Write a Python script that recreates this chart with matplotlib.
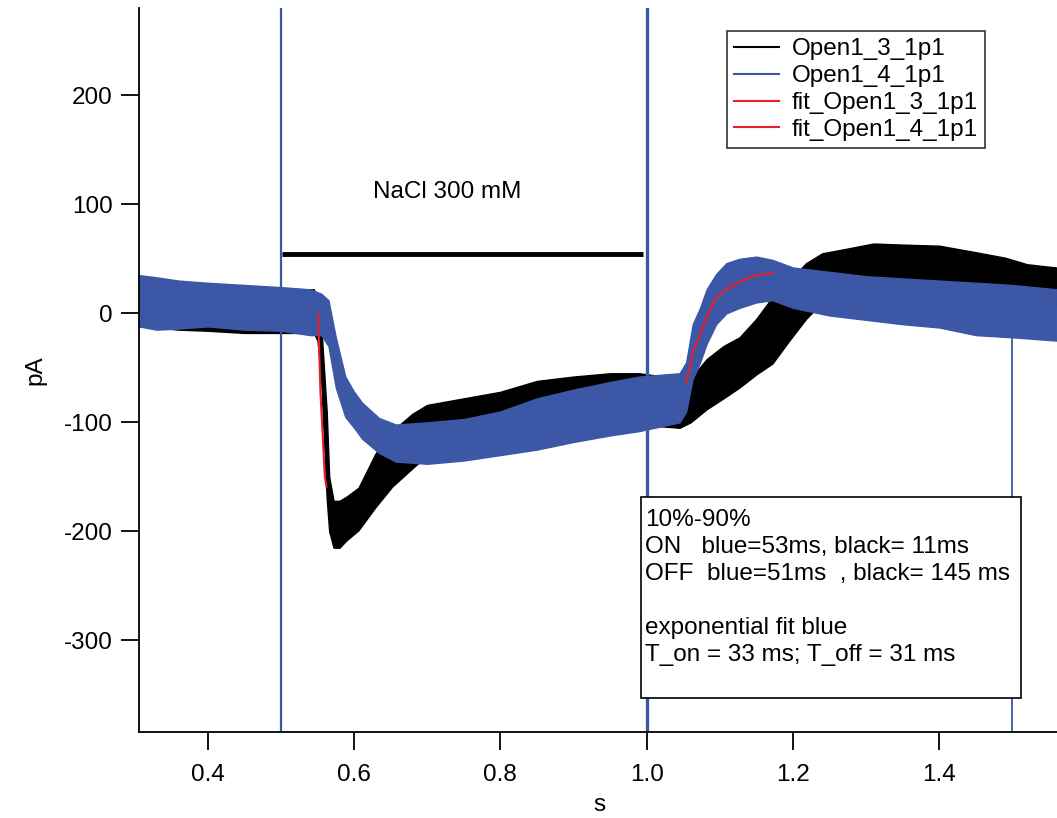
import matplotlib
matplotlib.use("Agg")
import matplotlib.pyplot as plt
from matplotlib.lines import Line2D
from matplotlib.patches import Rectangle

plt.rcParams['font.family'] = ['Liberation Sans', 'DejaVu Sans']
plt.rcParams['axes.unicode_minus'] = False

# Open1_3_1p1 (black): noise band, lower / upper edge (s, pA)
t_black = [0.306, 0.33, 0.36, 0.40, 0.45, 0.50, 0.545, 0.55, 0.555, 0.5626, 0.566,
           0.572, 0.58, 0.59, 0.606, 0.629, 0.652, 0.68, 0.70, 0.75, 0.80, 0.85,
           0.90, 0.95, 0.99, 1.045, 1.06, 1.082, 1.105, 1.127, 1.15, 1.172, 1.195,
           1.218, 1.24, 1.264, 1.31, 1.35, 1.40, 1.45, 1.49, 1.52, 1.56]
black_lo = [-12, -13, -15, -16, -18, -18, -18, -25, -60, -170, -200,
            -215, -215, -208, -199, -178, -159, -142, -130, -118, -112, -108,
            -105, -103, -102, -105, -100, -88, -78, -68, -56, -46, -25,
            -5, 10, 18, 22, 22, 20, 15, 14, 10, 5]
black_hi = [30, 28, 26, 25, 24, 22, 22, 10, -10, -90, -150,
            -172, -172, -168, -160, -129, -108, -92, -84, -78, -72, -62,
            -58, -55, -55, -60, -60, -42, -30, -22, -5, 15, 30,
            46, 55, 58, 64, 63, 62, 56, 51, 45, 42]

# Open1_4_1p1 (blue)
t_blue = [0.306, 0.33, 0.36, 0.40, 0.45, 0.50, 0.54, 0.555, 0.565, 0.575, 0.588,
          0.60, 0.611, 0.634, 0.657, 0.70, 0.75, 0.80, 0.85, 0.90, 0.95, 0.99,
          1.045, 1.054, 1.063, 1.073, 1.082, 1.095, 1.109, 1.127, 1.15, 1.172,
          1.20, 1.25, 1.30, 1.35, 1.40, 1.45, 1.50, 1.56]
blue_lo = [-12, -15, -14, -12, -15, -16, -20, -20, -30, -68, -95,
           -105, -115, -128, -136, -138, -135, -130, -125, -118, -112, -108,
           -100, -90, -60, -45, -28, -10, 0, 5, 10, 12,
           5, -2, -6, -10, -13, -20, -22, -25]
blue_hi = [35, 33, 30, 28, 26, 24, 22, 18, 12, -22, -58,
           -72, -82, -96, -102, -100, -97, -90, -78, -70, -63, -58,
           -55, -45, -10, 5, 22, 36, 46, 50, 52, 49,
           42, 38, 34, 32, 30, 28, 26, 22]

# exponential fits
t_fit3 = [0.5508, 0.5522, 0.5541, 0.5568, 0.5600, 0.5623]
fit3 = [0, -31, -73, -107, -150, -159]
t_fit4 = [1.054, 1.063, 1.073, 1.082, 1.095, 1.109, 1.127, 1.15, 1.172]
fit4 = [-64, -36, -20, -3, 14, 22, 29, 35, 37]

# switching artefacts on the blue trace
spike_t = [0.5, 1.0, 1.5]
spike_lo = [-400, -400, -400]
spike_hi = [300, 300, 5]

# NaCl application bar
bar_t = [0.502, 0.995]
bar_y = 54

black = '#000000'
blue = '#3b57a6'
red = '#e8202a'
fs = 17.5

W, H = 1057, 818
fig = plt.figure(figsize=(W / 100, H / 100), dpi=100)
ax = fig.add_axes([139 / W, 86 / H, 918 / W, 724 / H])

ax.fill_between(t_black, black_lo, black_hi, color=black, lw=1.0)
ax.fill_between(t_blue, blue_lo, blue_hi, color=blue, lw=1.0)
ax.vlines(spike_t, spike_lo, spike_hi, colors=blue, linewidths=[1.6, 2.4, 1.3])
ax.plot(t_fit3, fit3, color=red, lw=1.5)
ax.plot(t_fit4, fit4, color=red, lw=1.5)
ax.hlines(bar_y, bar_t[0], bar_t[1], colors=black, linewidth=3.5)
ax.text(0.728, 111, 'NaCl 300 mM', fontsize=fs, ha='center', va='center')

ax.set_xlim(0.306, 1.561)
ax.set_ylim(-384, 280)
ax.set_xticks([0.4, 0.6, 0.8, 1.0, 1.2, 1.4])
ax.set_xticklabels(['0.4', '0.6', '0.8', '1.0', '1.2', '1.4'])
ax.set_yticks([-300, -200, -100, 0, 100, 200])

for side in ['top', 'right']:
    ax.spines[side].set_visible(False)
for side in ['left', 'bottom']:
    ax.spines[side].set_linewidth(1.3)
ax.tick_params(direction='out', length=13, width=1.3, labelsize=fs)
ax.tick_params(axis='x', pad=10)
ax.tick_params(axis='y', pad=6)

ax.set_xlabel('s', fontsize=fs)
ax.xaxis.set_label_coords(0.502, -0.086)
ax.set_ylabel('pA', fontsize=fs)
ax.yaxis.set_label_coords(-0.101, 0.5)

handles = [Line2D([], [], color=black, lw=1.5),
           Line2D([], [], color=blue, lw=1.5),
           Line2D([], [], color=red, lw=1.5),
           Line2D([], [], color=red, lw=1.5)]
labels = ['Open1_3_1p1', 'Open1_4_1p1', 'fit_Open1_3_1p1', 'fit_Open1_4_1p1']
leg = fig.legend(handles, labels, loc='upper left',
                 bbox_to_anchor=(727 / W, 1 - 31 / H), fontsize=fs,
                 frameon=True, fancybox=False, borderpad=0.3, labelspacing=0.2,
                 handlelength=1.85, handletextpad=0.5, borderaxespad=0)
leg.get_frame().set_edgecolor('black')
leg.get_frame().set_linewidth(1.2)

# annotation box
fig.patches.append(Rectangle((641 / W, 1 - 698 / H), 380 / W, 201 / H,
                             transform=fig.transFigure, fill=True,
                             facecolor='white', edgecolor='black', lw=1.2))
notes = ['10%-90%',
         'ON   blue=53ms, black= 11ms',
         'OFF  blue=51ms  , black= 145 ms',
         '',
         'exponential fit blue',
         'T_on = 33 ms; T_off = 31 ms']
for i, line in enumerate(notes):
    fig.text(645 / W, 1 - (520 + 27 * i) / H, line, fontsize=fs, va='center')

fig.savefig('out.png', dpi=100)
